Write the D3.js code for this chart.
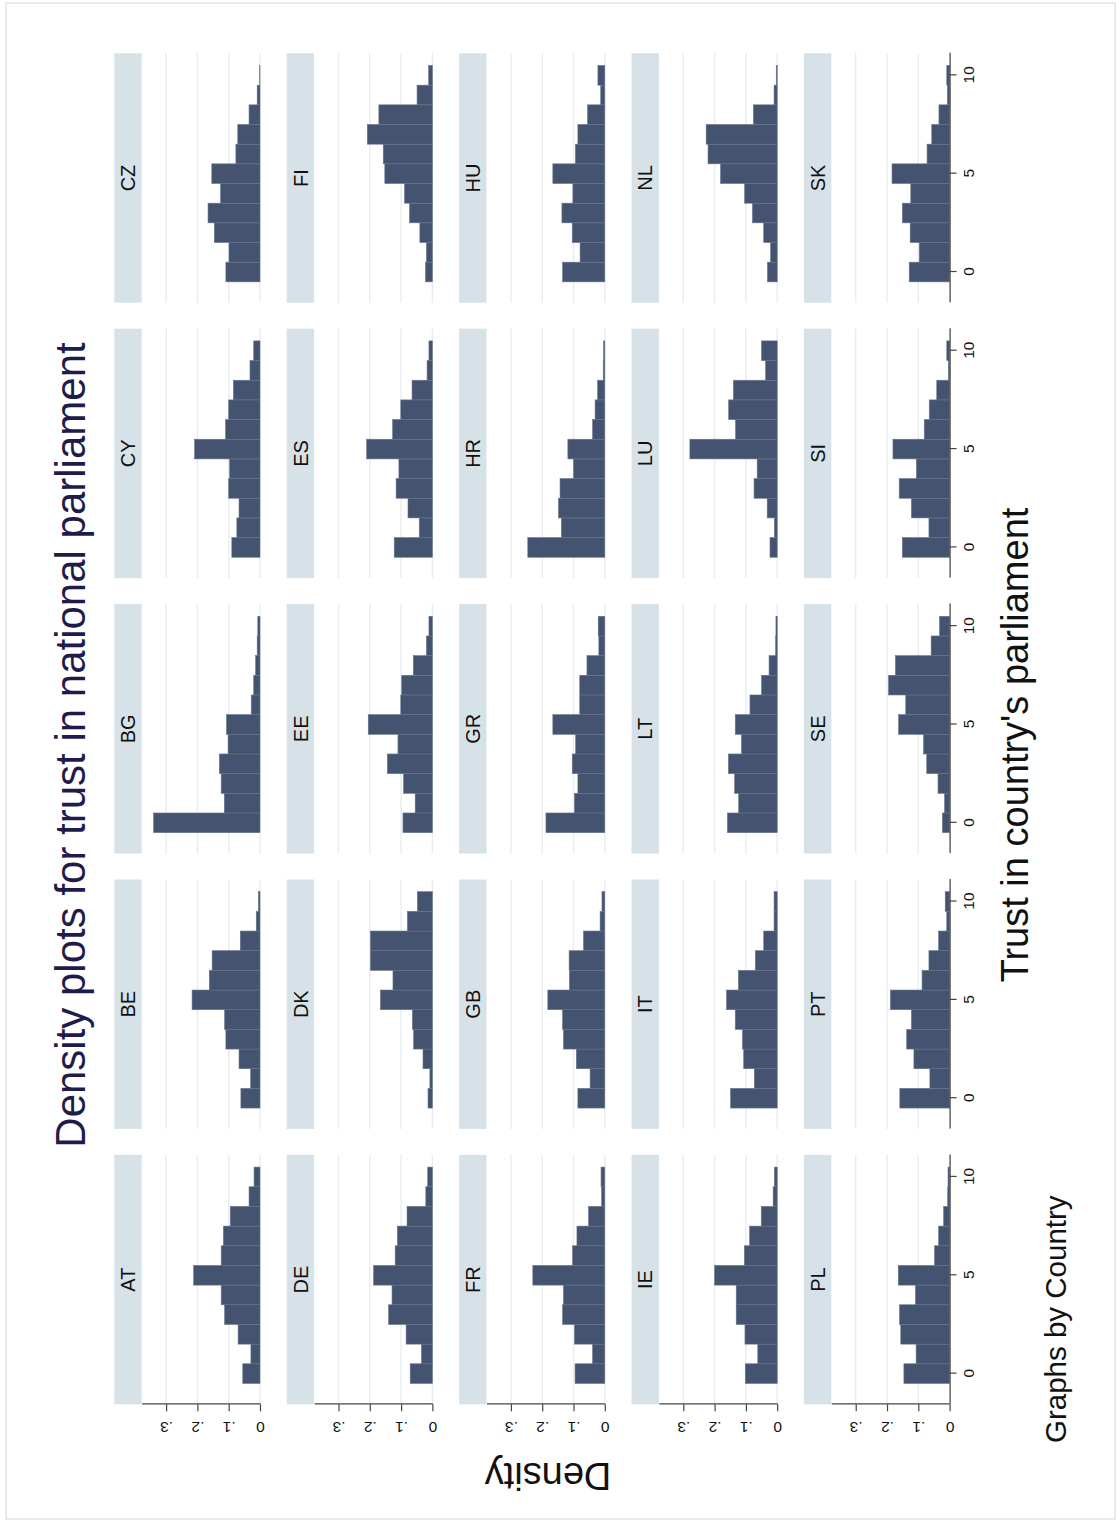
<!DOCTYPE html>
<html>
<head>
<meta charset="utf-8">
<script src="https://cdn.jsdelivr.net/npm/d3@7"></script>
<style>
  html, body { margin: 0; padding: 0; background: #ffffff; }
  svg { display: block; }
  text { font-family: "Liberation Sans", Arial, Helvetica, sans-serif; }
</style>
</head>
<body>
<div id="chart"></div>
<script>
// ---------------- data ----------------
const countries = ["AT","BE","BG","CY","CZ","DE","DK","EE","ES","FI","FR","GB","GR","HR","HU",
                   "IE","IT","LT","LU","NL","PL","PT","SE","SI","SK"];
const trustValues = [0,1,2,3,4,5,6,7,8,9,10];
const xTicks = [0,5,10];
const yTicks = [0,0.1,0.2,0.3];
const yTickLabels = ["0",".1",".2",".3"];

const AT = [0.055,0.029,0.070,0.113,0.124,0.212,0.124,0.117,0.095,0.035,0.019];
const BE = [0.061,0.030,0.067,0.109,0.113,0.217,0.162,0.153,0.063,0.012,0.005];
const BG = [0.340,0.114,0.124,0.130,0.102,0.107,0.028,0.020,0.014,0.009,0.007];
const CY = [0.090,0.074,0.067,0.100,0.097,0.209,0.110,0.100,0.085,0.032,0.020];
const CZ = [0.109,0.099,0.146,0.166,0.126,0.154,0.077,0.071,0.035,0.009,0.001];
const DE = [0.071,0.035,0.084,0.140,0.129,0.188,0.119,0.112,0.081,0.021,0.015];
const DK = [0.014,0.008,0.030,0.060,0.064,0.166,0.126,0.198,0.198,0.080,0.048];
const EE = [0.094,0.055,0.092,0.144,0.110,0.205,0.101,0.098,0.061,0.019,0.011];
const ES = [0.122,0.042,0.078,0.116,0.107,0.210,0.127,0.101,0.065,0.017,0.011];
const FI = [0.022,0.019,0.040,0.073,0.089,0.152,0.157,0.208,0.171,0.049,0.012];
const FR = [0.095,0.039,0.097,0.135,0.132,0.230,0.103,0.089,0.052,0.010,0.012];
const GB = [0.086,0.047,0.091,0.132,0.135,0.182,0.113,0.114,0.068,0.015,0.009];
const GR = [0.188,0.097,0.086,0.104,0.093,0.166,0.080,0.080,0.057,0.019,0.021];
const HR = [0.246,0.139,0.148,0.143,0.100,0.118,0.039,0.031,0.023,0.005,0.004];
const HU = [0.135,0.079,0.104,0.137,0.102,0.166,0.094,0.086,0.055,0.013,0.022];
const IE = [0.102,0.062,0.103,0.131,0.131,0.200,0.105,0.088,0.051,0.013,0.009];
const IT = [0.149,0.073,0.107,0.111,0.134,0.162,0.124,0.070,0.043,0.010,0.010];
const LT = [0.159,0.123,0.136,0.156,0.114,0.134,0.087,0.050,0.026,0.005,0.004];
const LU = [0.023,0.009,0.032,0.074,0.064,0.279,0.133,0.155,0.140,0.037,0.050];
const NL = [0.031,0.021,0.043,0.079,0.104,0.181,0.221,0.227,0.076,0.010,0.003];
const PL = [0.146,0.107,0.156,0.160,0.109,0.164,0.048,0.035,0.019,0.006,0.005];
const PT = [0.159,0.063,0.114,0.137,0.122,0.189,0.088,0.066,0.035,0.009,0.014];
const SE = [0.023,0.016,0.037,0.073,0.083,0.163,0.140,0.195,0.173,0.059,0.032];
const SI = [0.151,0.066,0.122,0.161,0.106,0.181,0.081,0.065,0.041,0.004,0.009];
const SK = [0.129,0.097,0.126,0.151,0.124,0.184,0.072,0.057,0.034,0.007,0.009];

const densities = {AT,BE,BG,CY,CZ,DE,DK,EE,ES,FI,FR,GB,GR,HR,HU,IE,IT,LT,LU,NL,PL,PT,SE,SI,SK};

const titleText = "Density plots for trust in national parliament";
const xTitle = "Trust in country's parliament";
const yTitle = "Density";
const noteText = "Graphs by Country";

// ---------------- layout ----------------
const W = 1117, H = 1523;           // page
const GW = 1523, GH = 1117;         // original (unrotated) graph
const nCols = 5;
const panelW = 249.4, colStep = 275.4, left0 = 118.7;
const stripH = 27.4, plotH = 118.3, rowStep = 172.4, top0 = 114.3;

const x = d3.scaleLinear().domain([-1.56, 11.12]).range([0, panelW]);
const y = d3.scaleLinear().domain([0, 0.378]).range([plotH, 0]);

const svg = d3.select("#chart").append("svg")
  .attr("width", W).attr("height", H);

svg.append("rect").attr("width", W).attr("height", H).attr("fill", "#ffffff");
svg.append("rect")
  .attr("x", 6).attr("y", 3).attr("width", 1109).attr("height", 1516)
  .attr("fill", "none").attr("stroke", "#e4eaee").attr("stroke-width", 2);

// rotated graph (original drawn landscape, turned 90° counter-clockwise)
const g = svg.append("g").attr("transform", `translate(0,${H}) rotate(-90)`);

countries.forEach((c, n) => {
  const row = Math.floor(n / nCols), col = n % nCols;
  const px = left0 + col * colStep;
  const stripTop = top0 + row * rowStep;
  const plotTop = stripTop + stripH;

  const p = g.append("g").attr("transform", `translate(${px},${stripTop})`);
  // strip
  p.append("rect").attr("x", 0).attr("y", 0).attr("width", panelW).attr("height", stripH)
    .attr("fill", "#d7e1e8");
  p.append("text").attr("x", panelW / 2).attr("y", stripH / 2)
    .attr("dy", "0.36em").attr("text-anchor", "middle")
    .attr("font-size", 20).attr("fill", "#111").text(c);

  const pl = g.append("g").attr("transform", `translate(${px},${plotTop})`);
  // gridlines
  pl.selectAll("line.grid").data(yTicks).join("line")
    .attr("class", "grid")
    .attr("x1", 0).attr("x2", panelW)
    .attr("y1", d => y(d)).attr("y2", d => y(d))
    .attr("stroke", "#e7eef2").attr("stroke-width", 1.5);

  // bars
  pl.selectAll("rect.bar").data(densities[c]).join("rect")
    .attr("class", "bar")
    .attr("x", (d, i) => x(trustValues[i] - 0.5))
    .attr("width", (d, i) => x(trustValues[i] + 0.5) - x(trustValues[i] - 0.5))
    .attr("y", d => y(d))
    .attr("height", d => y(0) - y(d))
    .attr("fill", "#44536f")
    .attr("stroke", "#66738c").attr("stroke-width", 0.6);

  // x axis on bottom row
  if (row === 4) {
    const ax = pl.append("g").attr("transform", `translate(0,${plotH})`)
      .call(d3.axisBottom(x).tickValues(xTicks).tickSize(7).tickSizeOuter(0).tickFormat(d3.format("d")));
    ax.select(".domain").attr("stroke", "#444").attr("stroke-width", 1.2);
    ax.selectAll(".tick line").attr("stroke", "#444").attr("stroke-width", 1.2);
    ax.selectAll(".tick text").attr("y", 13.5).attr("font-size", 15.5)
      .attr("fill", "#111").style("font-family", '"Liberation Sans", Arial, sans-serif');
  }
  // y axis on left column
  if (col === 0) {
    const ay = pl.append("g")
      .call(d3.axisLeft(y).tickValues(yTicks).tickSize(7).tickSizeOuter(0)
        .tickFormat((d, i) => yTickLabels[i]));
    ay.select(".domain").attr("stroke", "#444").attr("stroke-width", 1.2);
    ay.selectAll(".tick line").attr("stroke", "#444").attr("stroke-width", 1.2);
    ay.selectAll(".tick text")
      .attr("x", 0).attr("dy", 0).attr("text-anchor", "middle")
      .attr("transform", "translate(-18,0) rotate(-90)")
      .attr("font-size", 15.5).attr("fill", "#111")
      .style("font-family", '"Liberation Sans", Arial, sans-serif');
  }
});

// titles
g.append("text").attr("x", 778).attr("y", 85).attr("text-anchor", "middle")
  .attr("font-size", 42).attr("fill", "#1f1c4c").text(titleText);
g.append("text").attr("x", 778).attr("y", 1028).attr("text-anchor", "middle")
  .attr("font-size", 38).attr("fill", "#111").text(xTitle);
g.append("text").attr("transform", "translate(60,548) rotate(-90)").attr("text-anchor", "middle")
  .attr("font-size", 38).attr("fill", "#111").text(yTitle);
g.append("text").attr("x", 80).attr("y", 1066).attr("text-anchor", "start")
  .attr("font-size", 29.5).attr("fill", "#111").text(noteText);
</script>
</body>
</html>
